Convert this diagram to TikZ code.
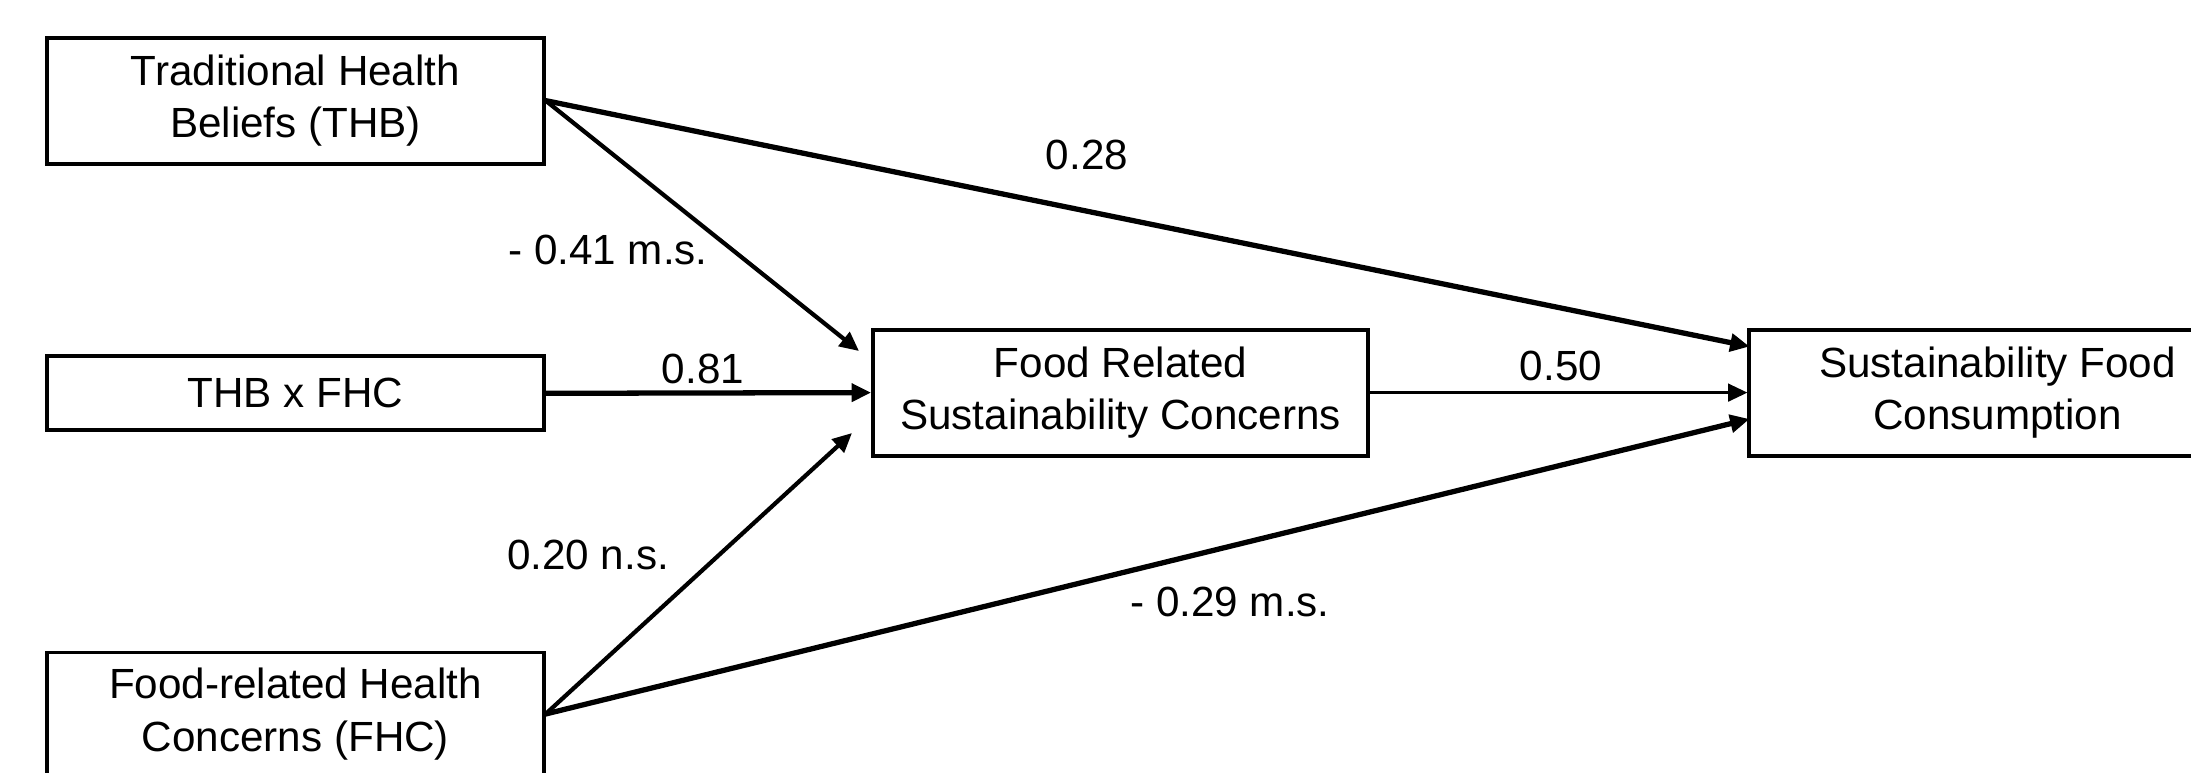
\documentclass[tikz,border=0pt]{standalone}
\usepackage{fontspec}
\setmainfont{Liberation Sans}
\usetikzlibrary{arrows.meta}
\tikzset{
  box/.style={draw=black, line width=1.1pt, fill=white, align=center, inner sep=0pt,
    font=\fontsize{12pt}{15pt}\selectfont, minimum width=4.96cm},
  lbl/.style={font=\fontsize{12pt}{15pt}\selectfont, inner sep=0pt},
  conn/.style={-{Triangle[length=5.5pt,width=5pt]}, line width=1.5pt},
  connmid/.style={conn, line width=1.2pt},
  connthin/.style={conn, line width=0.8pt}
}
\begin{document}
\begin{tikzpicture}[x=0.01cm,y=-0.01cm]
\useasboundingbox (0,0) rectangle (2191,772);
\clip (0,0) rectangle (2191,772);
\node[box, minimum height=1.26cm] (thb) at (295.5,100.6) {Traditional Health\\Beliefs (THB)};
\node[box, minimum height=0.74cm] (int) at (295.5,393.3) {THB x FHC};
\node[box, minimum height=1.23cm] (fhc) at (295.5,714) {Food-related Health\\Concerns (FHC)};
\node[box, minimum height=1.26cm, minimum width=4.95cm] (frs) at (1120.6,392.6) {Food Related\\Sustainability Concerns};
\node[box, minimum height=1.26cm] (sfc) at (1997.5,392.6) {Sustainability Food\\Consumption};
\coordinate (frsA) at (859,351);
\coordinate (frsB) at (852,433);
\coordinate (sfcA) at (1749.5,346.5);
\coordinate (sfcB) at (1749.5,419);
\draw[connmid] (thb.east) -- (frsA);
\draw[conn] (thb.east) -- (sfcA);
\draw[conn] (int.east) -- (frs.west);
\draw[connmid] (fhc.east) -- (frsB);
\draw[conn] (fhc.east) -- (sfcB);
\draw[connthin] (frs.east) -- (sfc.west);
\node[lbl] (l28) at (1087,155) {0.28};
\node[lbl] (l41) at (608,250) {- 0.41 m.s.};
\node[lbl] (l81) at (703,369) {0.81};
\node[lbl] (l50) at (1561,366) {0.50};
\node[lbl] (l20) at (588,555) {0.20 n.s.};
\node[lbl] (l29) at (1230,602) {- 0.29 m.s.};
\end{tikzpicture}
\end{document}
